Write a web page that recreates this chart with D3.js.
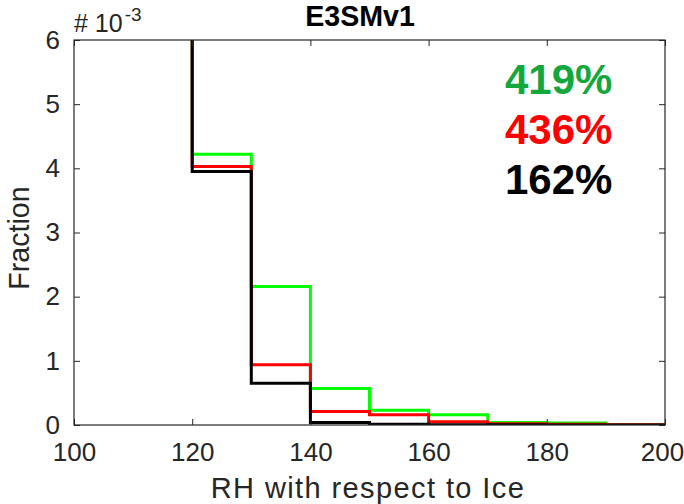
<!DOCTYPE html>
<html>
<head>
<meta charset="utf-8">
<script src="https://cdn.jsdelivr.net/npm/d3@7"></script>
<style>
  html, body { margin: 0; padding: 0; background: #fff; }
  svg { display: block; }
  text { font-family: "Liberation Sans", Arial, Helvetica, sans-serif; }
</style>
</head>
<body>
<svg id="chart" width="684" height="504"></svg>
<script>
// Histogram bin left edges (RH with respect to ice, %)
const binEdges = [110, 120, 130, 140, 150, 160, 170, 180, 190];
const binEnd = 200;

// Fraction per bin (x 1e-3); the first bin runs off the top of the axes
const greenValues = [9.6, 4.22, 2.16, 0.57, 0.23, 0.16, 0.04, 0.03, 0.005];
const redValues   = [9.6, 4.03, 0.94, 0.21, 0.16, 0.05, 0.02, 0.01, 0.003];
const blackValues = [9.6, 3.95, 0.65, 0.04, 0.01, 0.003, 0.002, 0.001, 0.001];

const seriesColors = ["#00ff00", "#ff0000", "#000000"];

// Percentage annotations
const annotations = ["419%", "436%", "162%"];
const annotationColors = ["#14a83c", "#ff0000", "#000000"];

const xTicks = [100, 120, 140, 160, 180, 200];
const yTicks = [0, 1, 2, 3, 4, 5, 6];
const yMultiplier = 1e-3;

const svg = d3.select("#chart");
const box = { left: 74, right: 665, top: 40, bottom: 425 };
const axisColor = "#262626";
const tickFont = 26, labelFont = 28.6;

const x = d3.scaleLinear().domain([100, 200]).range([box.left, box.right]);
const y = d3.scaleLinear().domain([0, 6 * yMultiplier]).range([box.bottom, box.top]);

svg.append("defs").append("clipPath").attr("id", "plotClip")
  .append("rect").attr("x", box.left).attr("y", box.top)
  .attr("width", box.right - box.left).attr("height", box.bottom - box.top);

// Step outlines
const stepLine = d3.line()
  .x(d => x(d[0]))
  .y(d => y(d[1] * yMultiplier))
  .curve(d3.curveStepAfter);

const plot = svg.append("g").attr("clip-path", "url(#plotClip)");
[greenValues, redValues, blackValues].forEach((vals, i) => {
  const pts = binEdges.map((e, j) => [e, vals[j]]);
  pts.push([binEnd, vals[vals.length - 1]]);
  plot.append("path")
    .attr("d", stepLine(pts))
    .attr("fill", "none")
    .attr("stroke", seriesColors[i])
    .attr("stroke-width", 3)
    .attr("stroke-linejoin", "miter");
});

// Axes box with inward ticks on all four sides
const tickLen = 6;
const axStyle = g => g.call(s => s.select(".domain").remove())
  .selectAll("line").attr("stroke", axisColor).attr("stroke-width", 1);

const xb = svg.append("g").attr("transform", `translate(0,${box.bottom})`)
  .call(d3.axisBottom(x).tickValues(xTicks).tickSize(-tickLen).tickPadding(18).tickFormat(d3.format("d")));
const xt = svg.append("g").attr("transform", `translate(0,${box.top})`)
  .call(d3.axisTop(x).tickValues(xTicks).tickSize(-tickLen).tickFormat(""));
const yl = svg.append("g").attr("transform", `translate(${box.left},0)`)
  .call(d3.axisLeft(y).tickValues(yTicks.map(v => v * yMultiplier)).tickSize(-tickLen).tickPadding(14)
    .tickFormat(v => d3.format("d")(Math.round(v / yMultiplier))));
const yr = svg.append("g").attr("transform", `translate(${box.right},0)`)
  .call(d3.axisRight(y).tickValues(yTicks.map(v => v * yMultiplier)).tickSize(-tickLen).tickFormat(""));
[xb, xt, yl, yr].forEach(axStyle);

svg.append("rect")
  .attr("x", box.left).attr("y", box.top)
  .attr("width", box.right - box.left).attr("height", box.bottom - box.top)
  .attr("fill", "none").attr("stroke", axisColor).attr("stroke-width", 1.2);

[xb, yl].forEach(g => g.selectAll("text")
  .attr("font-size", tickFont).attr("fill", axisColor)
  .attr("font-family", "'Liberation Sans', Arial, sans-serif"));
// keep the last x label inside the canvas
xb.selectAll(".tick").filter(d => d === 200).select("text").attr("dx", -3);

// Exponent label
const expo = svg.append("text").attr("x", box.left).attr("y", 32)
  .attr("font-size", 25).attr("fill", axisColor);
expo.append("tspan").text("# 10");
expo.append("tspan").attr("dy", -11).attr("dx", 2).attr("font-size", 19).text("-3");

// Title
svg.append("text").attr("x", 360).attr("y", 26)
  .attr("text-anchor", "middle").attr("font-weight", "bold").attr("font-size", labelFont)
  .attr("fill", "#000").text("E3SMv1");

// Axis labels
svg.append("text").attr("x", 368).attr("y", 498)
  .attr("text-anchor", "middle").attr("font-size", 29).attr("letter-spacing", 1.4)
  .attr("fill", axisColor)
  .text("RH with respect to Ice");
svg.append("text").attr("transform", `translate(29,238) rotate(-90)`)
  .attr("text-anchor", "middle").attr("font-size", labelFont).attr("fill", axisColor)
  .text("Fraction");

// Percentage annotations
const annY = [94, 144, 194];
annotations.forEach((t, i) => {
  svg.append("text").attr("x", 505).attr("y", annY[i])
    .attr("font-weight", "bold").attr("font-size", 42)
    .attr("fill", annotationColors[i]).text(t);
});
</script>
</body>
</html>
